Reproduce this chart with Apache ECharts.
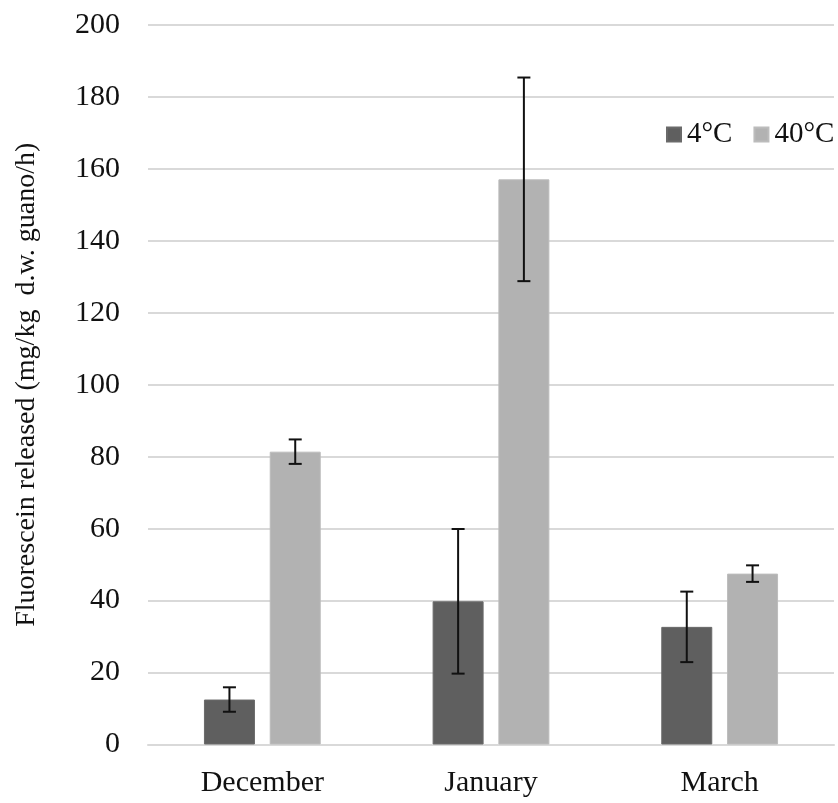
<!DOCTYPE html>
<html>
<head>
<meta charset="utf-8">
<script src="https://cdn.jsdelivr.net/npm/echarts@6/dist/echarts.min.js"></script>
<style>html,body{margin:0;padding:0;background:#fff}#c{width:838px;height:803px}</style>
</head>
<body>
<div id="c"></div>
<script>
var categories = ['December', 'January', 'March'];
var seriesNames = ['4°C', '40°C'];
var values4 = [12.5, 39.8, 32.7];
var values40 = [81.4, 157.1, 47.5];
var err4 = [3.4, 20.1, 9.8];
var err40 = [3.4, 28.3, 2.3];
var yTicks = [0, 20, 40, 60, 80, 100, 120, 140, 160, 180, 200];

var FONT = '"Liberation Serif", "Times New Roman", serif';
var BAR_PCT = 0.223;
var GAP_PCT = 0.29;

function errSeries(vals, errs, side) {
  var data = vals.map(function (v, i) { return [i, v - errs[i], v + errs[i]]; });
  return {
    type: 'custom',
    silent: true,
    z: 10,
    data: data,
    renderItem: function (params, api) {
      var band = api.size([1, 0])[0];
      var off = side * band * BAR_PCT * (1 + GAP_PCT) / 2;
      var lo = api.coord([api.value(0), api.value(1)]);
      var hi = api.coord([api.value(0), api.value(2)]);
      var x = lo[0] + off;
      var cap = 6.5;
      var st = { stroke: '#111', lineWidth: 2 };
      return {
        type: 'group',
        children: [
          { type: 'line', shape: { x1: x, y1: lo[1], x2: x, y2: hi[1] }, style: st },
          { type: 'line', shape: { x1: x - cap, y1: lo[1], x2: x + cap, y2: lo[1] }, style: st },
          { type: 'line', shape: { x1: x - cap, y1: hi[1], x2: x + cap, y2: hi[1] }, style: st }
        ]
      };
    }
  };
}

var chart = echarts.init(document.getElementById('c'));
chart.setOption({
  animation: false,
  backgroundColor: '#fff',
  textStyle: { fontFamily: FONT },
  legend: {
    data: seriesNames,
    orient: 'horizontal',
    left: 666, top: 120, width: 172,
    padding: 0,
    itemWidth: 14, itemHeight: 14, itemGap: 21,
    icon: 'rect',
    textStyle: { fontFamily: FONT, fontSize: 29, color: '#111', padding: [0, 0, 0, 1] }
  },
  grid: { left: 148, right: 4, top: 25, bottom: 58.5, containLabel: false, outerBoundsMode: 'none' },
  xAxis: {
    type: 'category',
    data: categories,
    axisLine: { show: true, lineStyle: { color: '#d9d9d9', width: 2 } },
    axisTick: { show: false },
    axisLabel: { fontFamily: FONT, fontSize: 30, color: '#111', margin: 24 }
  },
  yAxis: {
    type: 'value',
    min: yTicks[0], max: yTicks[yTicks.length - 1], interval: 20,
    name: 'Fluorescein released (mg/kg  d.w. guano/h)',
    nameLocation: 'middle',
    nameGap: 107,
    nameRotate: 90,
    nameTextStyle: { fontFamily: FONT, fontSize: 28, color: '#111' },
    axisLine: { show: false },
    axisTick: { show: false },
    axisLabel: { fontFamily: FONT, fontSize: 30, color: '#111', margin: 28 },
    splitLine: { lineStyle: { color: '#d9d9d9', width: 2 } }
  },
  series: [
    { name: seriesNames[0], type: 'bar', data: values4, barWidth: (BAR_PCT * 100) + '%', barGap: (GAP_PCT * 100) + '%',
      itemStyle: { color: '#5f5f5f', borderColor: '#6a6a6a', borderWidth: 1 } },
    { name: seriesNames[1], type: 'bar', data: values40, barWidth: (BAR_PCT * 100) + '%', barGap: (GAP_PCT * 100) + '%',
      itemStyle: { color: '#b2b2b2', borderColor: '#bcbcbc', borderWidth: 1 } },
    errSeries(values4, err4, -1),
    errSeries(values40, err40, 1)
  ]
});
</script>
</body>
</html>
